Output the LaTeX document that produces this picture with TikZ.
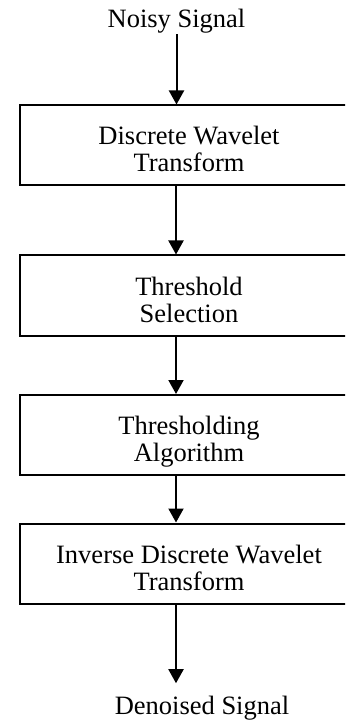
\documentclass[tikz,border=0pt]{standalone}
\usepackage{fontspec}
\setmainfont{Liberation Serif}
\usetikzlibrary{arrows.meta}
\begin{document}
\begin{tikzpicture}[x=0.5pt,y=-0.5pt,
  block/.style={draw,line width=1pt,minimum width=169.5pt,minimum height=40pt,
    align=center,text height=26.5pt,text depth=0pt,inner sep=0pt},
  sig/.style={inner sep=0pt,anchor=base},
  arr/.style={line width=1pt,-{Triangle[width=7.5pt,length=7pt]}}]
\fontsize{13.25pt}{13.5pt}\selectfont
\clip (0,0) rectangle (345,721);
\node[sig] (in) at (176.5,28) {Noisy Signal};
\node[block] (dwt) at (189,145.5) {Discrete Wavelet\\Transform};
\node[block] (sel) at (189,295.5) {Threshold\\Selection};
\node[block] (alg) at (189,435) {Thresholding\\Algorithm};
\node[block] (idwt) at (189,563.5) {Inverse Discrete Wavelet\\Transform};
\node[sig,inner ysep=6pt] (out) at (202,714) {Denoised Signal};
\path[draw,arr] (in.south) -- (in.south |- dwt.north);
\path[draw,arr] ([xshift=-6.5pt]dwt.south) -- ([xshift=-6.5pt]sel.north);
\path[draw,arr] ([xshift=-6.5pt]sel.south) -- ([xshift=-6.5pt]alg.north);
\path[draw,arr] ([xshift=-6.5pt]alg.south) -- ([xshift=-6.5pt]idwt.north);
\path[draw,arr] ([xshift=-6.5pt]idwt.south) -- ([xshift=-6.5pt]idwt.south |- out.north);
\end{tikzpicture}
\end{document}
